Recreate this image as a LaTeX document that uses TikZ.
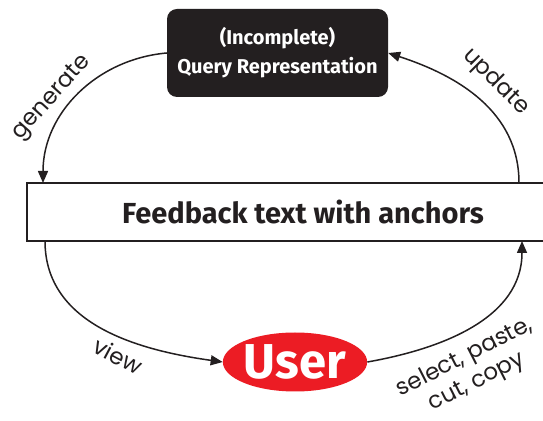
\documentclass[tikz,border=0pt]{standalone}
\usepackage{fontspec}
\setmainfont{Poppins}
\newfontfamily\boxfont{Fira Sans}
\usetikzlibrary{arrows.meta,shapes.geometric}
\definecolor{inkdark}{HTML}{231F20}
\definecolor{userred}{HTML}{EC1C24}

\begin{document}
\begin{tikzpicture}[x=1pt, y=1pt,
  flow/.style={draw=inkdark, line width=1.5pt, -{Triangle[length=12pt,width=10pt]}},
  lbl/.style={text=inkdark, font=\fontsize{23}{27}\selectfont, inner sep=0pt}]
  \useasboundingbox (0, 0) rectangle (543, 420);
  \draw (277.5, 367) node[fill=inkdark, rounded corners=10pt, minimum width=221pt, minimum height=88pt, text=white, align=center, font=\boxfont\bfseries\fontsize{20}{29}\selectfont] (query) {(Incomplete)\\Query Representation};
  \draw (303, 208) node[draw=inkdark, line width=1.6pt, minimum width=552pt, minimum height=58pt, text=inkdark, font=\boxfont\bfseries\fontsize{29}{32}\selectfont] (fb) {Feedback text with anchors};
  \draw (295, 58) node[ellipse, fill=userred, minimum width=136pt, minimum height=59pt, inner sep=0pt, text=white, font=\boxfont\bfseries\fontsize{49}{49}\selectfont] (user) {User};
  \draw (43, 237) coordinate (genend);
  \draw (519, 237) coordinate (updstart);
  \draw (45, 179) coordinate (viewstart);
  \draw (522, 179) coordinate (selend);
  \draw [flow] (query.west) to[out=185, in=90] (genend);
  \draw [flow] (updstart) to[out=90, in=-18] (query.east);
  \draw [flow] (viewstart) to[out=-90, in=172] (user.west);
  \draw [flow] (user.east) to[out=10, in=-90] (selend);
  \draw (52, 322) node[lbl, rotate=48] (genlbl) {generate};
  \draw (496, 338) node[lbl, rotate=-45] (updlbl) {update};
  \draw (118, 64) node[lbl, rotate=-28] (viewlbl) {view};
  \draw (471, 50) node[lbl, rotate=27, align=center] (sellbl) {select, paste,\\cut, copy};
\end{tikzpicture}
\end{document}
